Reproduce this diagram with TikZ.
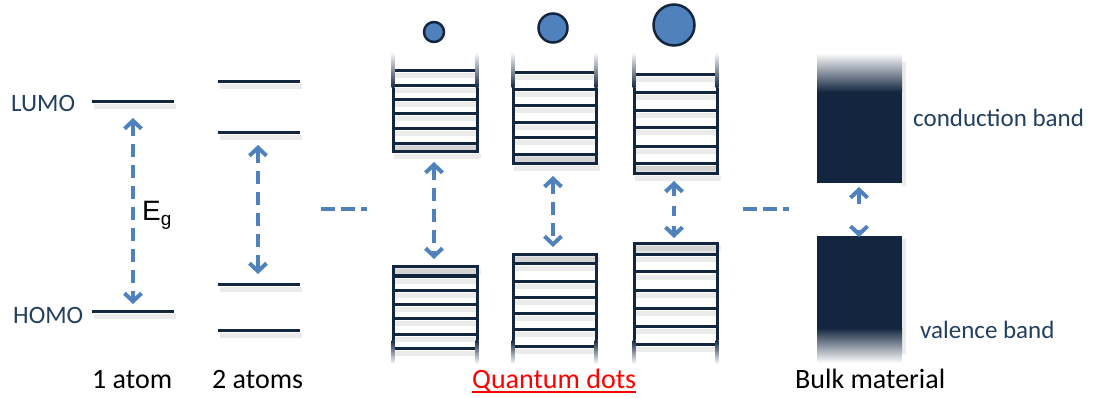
\documentclass[tikz,border=0pt]{standalone}
\usepackage{fontspec}
\setmainfont{Carlito}
\newfontfamily\arialfont{Liberation Sans}
\usetikzlibrary{arrows.meta}
\definecolor{navy}{HTML}{13263F}
\definecolor{arrowblue}{HTML}{4F81BD}
\definecolor{labelblue}{HTML}{223F5F}
\tikzset{
  level/.style={draw=navy, line width=3pt},
  lineshadow/.style={draw=black, opacity=0.08, line width=5pt},
  gaparrow/.style={draw=arrowblue, line width=4pt, dash pattern=on 13pt off 8pt,
    >={Straight Barb[length=8pt,width=17pt]}, <->},
  dots/.style={draw=arrowblue, line width=4pt, dash pattern=on 14pt off 6pt},
  statelabel/.style={text=labelblue, font=\fontsize{25}{28}\selectfont, inner sep=0pt},
  caption/.style={text=black, font=\fontsize{28}{32}\selectfont, inner sep=0pt},
  dot/.style={circle, draw=navy, line width=2.5pt, fill=arrowblue, inner sep=0pt},
}
% one energy level with its soft shadow: x1, x2, y
\newcommand\bandline[3]{%
  \draw[lineshadow] (#1+2,#3+5) -- (#2+2,#3+5);
  \draw[level] (#1,#3) -- (#2,#3);}
% conduction levels of a dot: left, right, bottom, list of level heights
\newcommand\upperbox[4]{%
  \fill[black, opacity=0.10] (#1,#3-8) rectangle (#2,#3);
  \foreach \yy in {#4}{\bandline{#1}{#2}{\yy}}
  \bandline{#1-1.5}{#2+1.5}{#3}
  \foreach \xx in {#1,#2}{
    \shade[top color=white, bottom color=navy] (\xx-1.5,52) rectangle (\xx+1.5,88);
    \fill[navy] (\xx-1.5,88) rectangle (\xx+1.5,#3);}}
% valence levels of a dot: left, right, top, list of level heights
\newcommand\lowerbox[4]{%
  \fill[black, opacity=0.10] (#1,#3) rectangle (#2,#3+9);
  \foreach \yy in {#4}{\bandline{#1}{#2}{\yy}}
  \bandline{#1-1.5}{#2+1.5}{#3}
  \foreach \xx in {#1,#2}{
    \fill[navy] (\xx-1.5,#3) rectangle (\xx+1.5,340);
    \shade[top color=navy, bottom color=white] (\xx-1.5,340) rectangle (\xx+1.5,364);}}
\begin{document}
\begin{tikzpicture}[x=1pt, y=-1pt]
\useasboundingbox (0,0) rectangle (1098,398);

% ---- single atom
\bandline{92}{174}{102}
\bandline{92}{174}{311}
\node[statelabel, anchor=base west] (lumo) at (11,112) {LUMO};
\node[statelabel, anchor=base west] (homo) at (13,323) {HOMO};
\coordinate (a1top) at (133,118);
\coordinate (a1bot) at (133,304);
\draw[gaparrow] (a1top) -- (a1bot);
\node[inner sep=0pt, anchor=base west] (eg) at (142,221)
  {\arialfont\fontsize{28}{30}\selectfont E\raisebox{-5pt}{\fontsize{19}{20}\selectfont g}};

% ---- two atoms
\foreach \yy in {82,133,284,330}{\bandline{218}{300}{\yy}}
\coordinate (a2top) at (258,145);
\coordinate (a2bot) at (258,274);
\draw[gaparrow] (a2top) -- (a2bot);

% ---- continuation marks
\coordinate (d1a) at (321,209);
\coordinate (d1b) at (367,209);
\draw[dots] (d1a) -- (d1b);
\coordinate (d2a) at (743,209);
\coordinate (d2b) at (789,209);
\draw[dots] (d2a) -- (d2b);

% ---- quantum dots
\node[dot, minimum size=20pt] (qd1) at (434,32) {};
\node[dot, minimum size=29pt] (qd2) at (553,28) {};
\node[dot, minimum size=41pt] (qd3) at (674,25) {};

\upperbox{393}{477}{152}{71,86,100,114,129,144}
\upperbox{513}{596}{164}{73,90,106,123,138,155}
\upperbox{634}{717}{174}{75,93,111,128,147,164}

\lowerbox{393}{477}{267}{276,290,304,318,334,348}
\lowerbox{513}{596}{255}{264,281,297,313,329,346}
\lowerbox{634}{717}{244}{255,272,290,308,326,344}

\coordinate (q1top) at (434,162);
\coordinate (q1bot) at (434,259);
\draw[gaparrow] (q1top) -- (q1bot);
\coordinate (q2top) at (553,176);
\coordinate (q2bot) at (553,247);
\draw[gaparrow] (q2top) -- (q2bot);
\coordinate (q3top) at (674,181);
\coordinate (q3bot) at (674,238);
\draw[gaparrow, dash pattern=on 10pt off 10pt] (q3top) -- (q3bot);

% ---- bulk bands
\fill[black, opacity=0.08] (902,62) rectangle (906,186);
\shade[top color=white, bottom color=navy] (817,53) rectangle (902,92);
\fill[navy] (817,92) rectangle (902,183);
\node[statelabel, anchor=base west] (cb) at (913,127) {conduction band};
\fill[black, opacity=0.08] (902,239) rectangle (906,354);
\fill[navy] (817,236) rectangle (902,328);
\shade[top color=navy, bottom color=white] (817,328) rectangle (902,363);
\node[statelabel, anchor=base west] (vb) at (920,338) {valence band};
\coordinate (btop) at (859,187);
\coordinate (bbot) at (859,237);
\draw[gaparrow, dash pattern=on 12pt off 26pt] (btop) -- (bbot);

% ---- captions
\node[caption, anchor=base west] (c1) at (92,388) {1 atom};
\node[caption, anchor=base west] (c2) at (212,388) {2 atoms};
\node[caption, anchor=base west, text=red] (c3) at (472,388) {Quantum dots};
\draw[red, line width=1.8pt] ([yshift=-4pt]c3.base west) -- ([yshift=-4pt]c3.base east);
\node[caption, anchor=base west] (c4) at (795,388) {Bulk material};
\end{tikzpicture}
\end{document}
